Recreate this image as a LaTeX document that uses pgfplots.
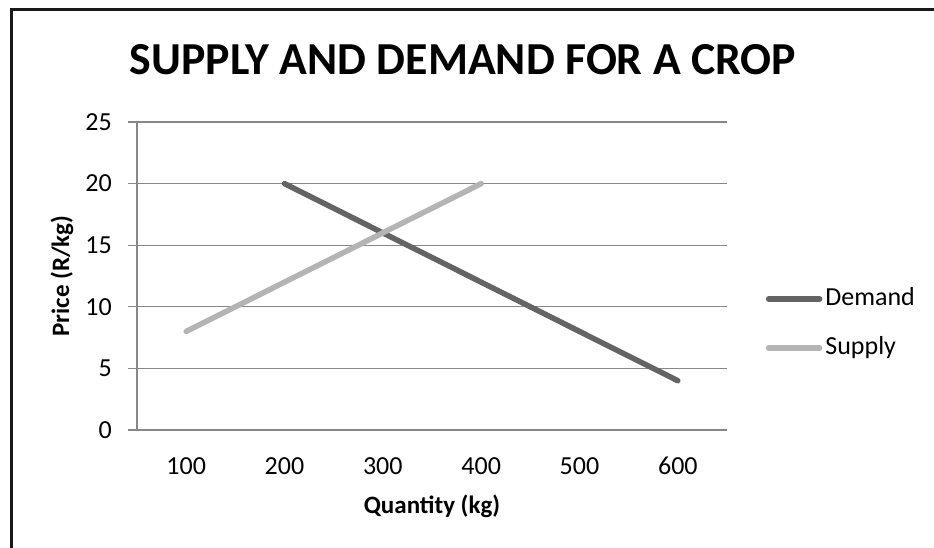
\documentclass[border=0pt]{standalone}
\usepackage{pgfplots}
\pgfplotsset{compat=1.18}
\usepackage{fontspec}
\setmainfont{Carlito}
\definecolor{demandc}{RGB}{100,100,100}
\definecolor{supplyc}{RGB}{180,180,180}
\definecolor{gridc}{RGB}{135,135,135}
\begin{document}
\begin{tikzpicture}[x=1pt,y=1pt]
\fill[white] (0,0) rectangle (934,547);
\draw[line width=3pt,black!90] (11.5,-5) -- (11.5,537.5) -- (940,537.5);
\node[font=\fontsize{45.8}{54}\selectfont\bfseries, anchor=base, inner sep=0pt] at (463,472) {SUPPLY AND DEMAND FOR A CROP};
\begin{axis}[
  at={(137pt,117pt)}, anchor=south west,
  scale only axis, width=590pt, height=308pt,
  xmin=0.5, xmax=6.5, ymin=0, ymax=25,
  xtick={1,2,3,4,5,6},
  xticklabels={100,200,300,400,500,600},
  ytick={0,5,10,15,20,25},
  /pgf/number format/assume math mode=true,
  axis lines*=left,
  axis line style={gridc, line width=1.3pt},
  ymajorgrids, major grid style={gridc, line width=1.3pt},
  xtick style={draw=none},
  ytick style={gridc, line width=1.3pt},
  xtick align=inside, ytick align=outside, major tick length=9pt,
  ticklabel style={font=\fontsize{26}{30}\selectfont, inner sep=0pt},
  yticklabel style={xshift=-16pt},
  xticklabel style={anchor=base, yshift=-44pt},
  xlabel={Quantity (kg)}, ylabel={Price (R/kg)},
  label style={font=\fontsize{25}{30}\selectfont\bfseries, inner sep=0pt},
  xlabel style={at={(axis description cs:0.5,-0.2695)}, anchor=base},
  ylabel style={at={(axis description cs:-0.127,0.5)}, anchor=center},
  legend style={at={(axis description cs:1.0656,0.3458)}, anchor=west, draw=none, fill=none,
    font=\fontsize{26}{30}\selectfont, row sep=25pt, inner sep=0pt,
    nodes={inner sep=0pt, text height=19pt, text depth=5pt},
    /tikz/every odd column/.append style={column sep=3pt}},
  legend cell align=left,
  legend image code/.code={\draw[#1, line cap=round] (0pt,0pt) -- (51pt,0pt);},
  clip=false,
]
\addplot[demandc, line width=5.5pt, line cap=round] coordinates {(2,20) (3,16) (4,12) (5,8) (6,4)};
\addlegendentry{Demand}
\addplot[supplyc, line width=5.5pt, line cap=round] coordinates {(1,8) (2,12) (3,16) (4,20)};
\addlegendentry{Supply}
\end{axis}
\pgfresetboundingbox
\useasboundingbox (0,0) rectangle (934,547);
\end{tikzpicture}
\end{document}
